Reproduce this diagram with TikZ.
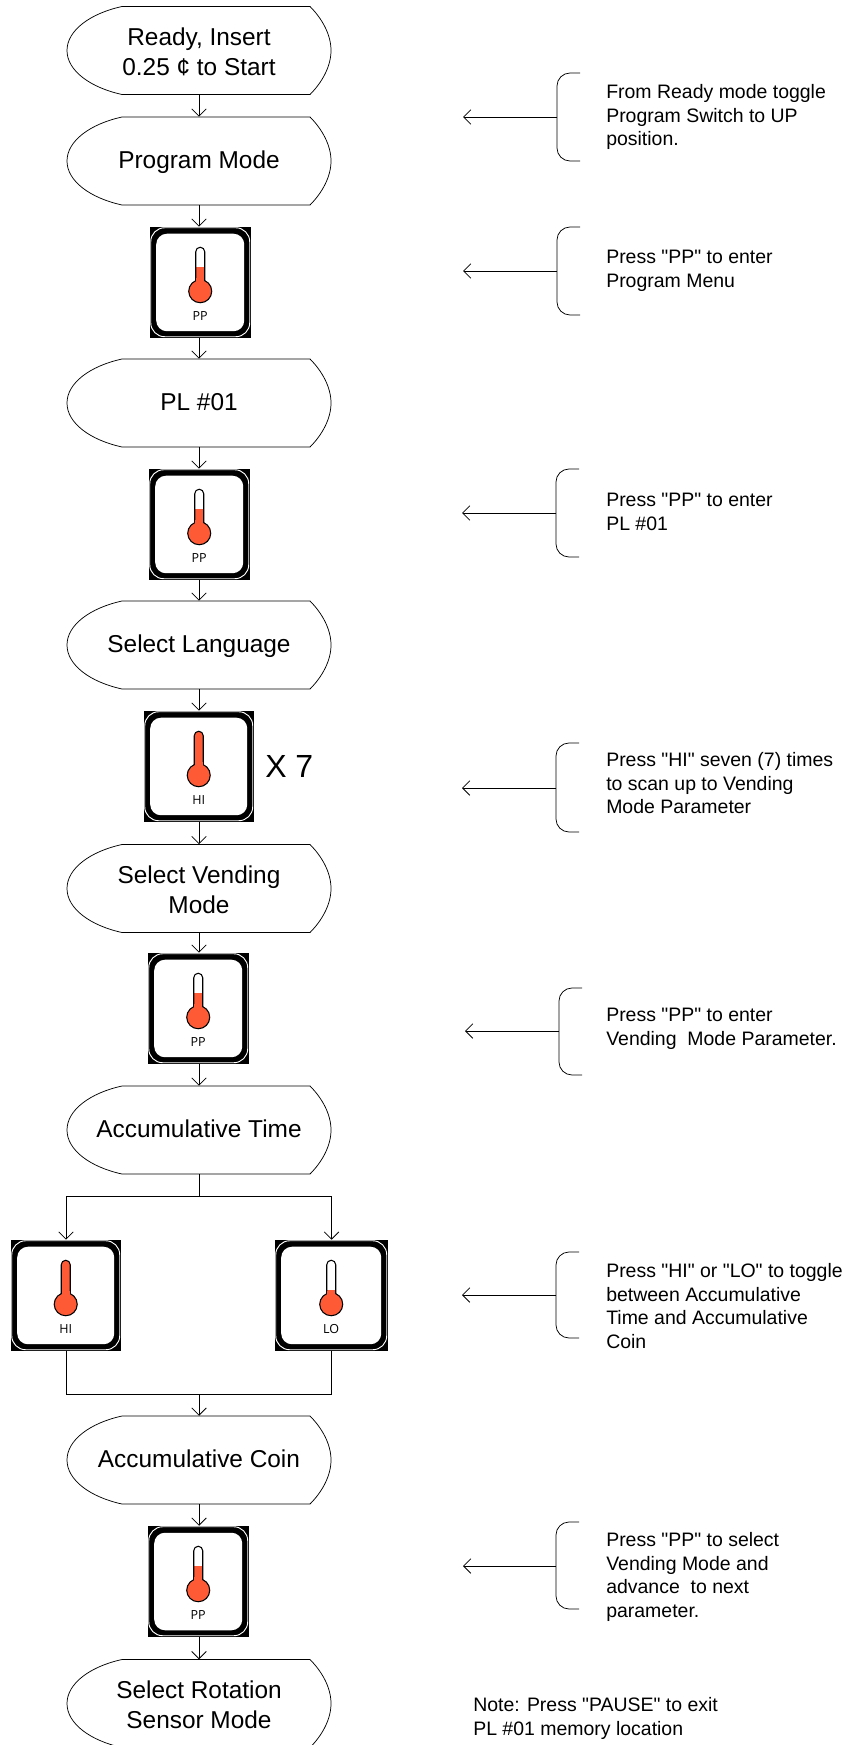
\documentclass[tikz,border=0pt]{standalone}
\usepackage{fontspec}
\setmainfont{Liberation Sans}[Ligatures=TeXOff]
\newfontfamily\iconfont{Open Sans}
\usetikzlibrary{arrows.meta}
\definecolor{thermo}{HTML}{FF5A36}
\newcommand{\tfirst}{\rule{0pt}{\dimexpr.7\baselineskip+2.6pt\relax}}
\newcommand{\ttwo}{\rule{0pt}{21.7pt}}
\tikzset{
  flow/.style={draw=black,line width=.6pt,-{Straight Barb[length=5.5pt,width=11pt,line width=.55pt]}},
  plainflow/.style={draw=black,line width=.6pt},
  termline/.style={draw=black,line width=.55pt},
  term/.style={inner sep=0pt,minimum width=198pt,minimum height=66pt,align=center,
    font=\fontsize{18.3}{22.7}\selectfont,execute at begin node=\tfirst,execute at end node=\strut},
  notetext/.style={inner sep=0pt,anchor=north west,align=left,font=\fontsize{14.6}{17.8}\selectfont,execute at begin node=\strut},
  iconback/.style={fill=black,inner sep=0pt,draw=none},
  iconrim/.style={draw=white,line width=.7pt,rounded corners=10.5pt},
  iconface/.style={fill=white,rounded corners=8pt},
  thermoline/.style={draw=black,line width=.8pt},
  iconlabel/.style={inner sep=0pt,anchor=base,text=black,font=\iconfont\fontsize{9.4}{11}\selectfont},
}
\newcommand{\terminal}[4]{%
  \node[term] (#1) at (#2,#3) {#4};
  \draw[termline,shift={(#1.center)}] (-77,-44) -- (111,-44)
    .. controls (123,-32) and (132,-16) .. (132,0)
    .. controls (132,16) and (123,32) .. (111,44)
    -- (-77,44)
    .. controls (-109,37) and (-132,20) .. (-132,0)
    .. controls (-132,-20) and (-109,-37) .. (-77,-44) -- cycle;
}
\newcommand{\iconbox}[7]{%
  \pgfmathsetmacro{\icw}{#4-#2}
  \pgfmathsetmacro{\ich}{#5-#3}
  \pgfmathsetmacro{\icc}{\icw/2}
  \node[iconback,minimum width={\icw*0.75pt},minimum height={\ich*0.75pt}] (#1) at ({(#2+#4)/2},{(#3+#5)/2}) {};
  \begin{scope}[shift={(#1.north west)}]
    \draw[iconrim] (1,1) rectangle ({\icw-1},{\ich-1});
    \fill[iconface] (6.5,7) rectangle ({\icw-6.5},{\ich-6.5});
    \fill[white] ({\icc-4.5},25) arc[start angle=180,end angle=360,radius=4.5] -- ({\icc+4.5},60) -- ({\icc-4.5},60) -- cycle;
    \begin{scope}
      \clip ({\icc-4.5},25) arc[start angle=180,end angle=360,radius=4.5] -- ({\icc+4.5},60) -- ({\icc-4.5},60) -- cycle;
      \fill[thermo] ({\icc-6},#6) rectangle ({\icc+6},60);
    \end{scope}
    \draw[thermoline] ({\icc-4.5},60) -- ({\icc-4.5},25) arc[start angle=180,end angle=360,radius=4.5] -- ({\icc+4.5},60);
    \filldraw[thermoline,fill=thermo] (\icc,64.5) circle[radius=11.5];
    \fill[thermo] ({\icc-3.9},51) rectangle ({\icc+3.9},60);
    \node[iconlabel] (#1l) at (\icc,94) {#7};
  \end{scope}
}
\newcommand{\bracketnote}[7]{%
  \draw[termline,rounded corners=9.75pt] (#7,#3) -- (#2,#3) -- (#2,#4) -- (#7,#4);
  \coordinate (#1) at (#2,#5);
  \coordinate (#1t) at (#6,#5);
  \draw[flow] (#1) -- (#1t);
}
\newcommand{\notetxt}[4]{\node[notetext] (#1) at (#2,{#3-14}) {#4};}
\begin{document}
\begin{tikzpicture}[x=0.75pt,y=-0.75pt]
\useasboundingbox (0,0) rectangle (850,1745);
\fill[white] (0,0) rectangle (850,1745);

\terminal{t1}{199}{50.5}{\ttwo Ready, Insert\\0.25 ¢ to Start}
\terminal{t2}{199}{161}{Program Mode}
\terminal{t3}{199}{403}{PL \#01}
\terminal{t4}{199}{645}{Select Language}
\terminal{t5}{199}{888.5}{\ttwo Select Vending\\Mode}
\terminal{t6}{199}{1130}{Accumulative Time}
\terminal{t7}{199}{1460}{Accumulative Coin}
\terminal{t8}{199}{1703.5}{\ttwo Select Rotation\\Sensor Mode}

\iconbox{b1}{150}{227}{251}{338}{40}{PP}
\iconbox{b2}{149}{469}{250}{580}{40}{PP}
\iconbox{b3}{144}{711}{254}{822}{10}{HI}
\iconbox{b4}{148}{953}{249}{1064}{40}{PP}
\iconbox{b5}{11}{1240}{121}{1351}{10}{HI}
\iconbox{b6}{275}{1240}{388}{1351}{50}{LO}
\iconbox{b7}{148}{1526}{249}{1637}{40}{PP}

\node[inner sep=0pt,anchor=base west,font=\fontsize{24}{28}\selectfont] (x7) at (265,777) {X 7};

\draw[flow] (t1.south) -- (t2.north);
\draw[flow] (t2.south) -- (t2.south |- b1.north);
\draw[flow] (t2.south |- b1.south) -- (t3.north);
\draw[flow] (t3.south) -- (t3.south |- b2.north);
\draw[flow] (t3.south |- b2.south) -- (t4.north);
\draw[flow] (t4.south) -- (t4.south |- b3.north);
\draw[flow] (t4.south |- b3.south) -- (t5.north);
\draw[flow] (t5.south) -- (t5.south |- b4.north);
\draw[flow] (t5.south |- b4.south) -- (t6.north);
\coordinate (split) at (199,1196);
\coordinate (merge) at (199,1394);
\draw[plainflow] (t6.south) -- (split);
\draw[flow] (split) -| (b5.north);
\draw[flow] (split) -| (b6.north);
\draw[plainflow] (b5.south) |- (merge);
\draw[plainflow] (b6.south) |- (merge);
\draw[flow] (merge) -- (t7.north);
\draw[flow] (t7.south) -- (t7.south |- b7.north);
\draw[flow] (t7.south |- b7.south) -- (t8.north);

\bracketnote{n1}{557}{73}{161}{117}{463}{580}
\notetxt{m1}{606}{98}{From Ready mode toggle\\Program Switch to UP\\position.}
\bracketnote{n2}{557}{227}{315}{271}{463}{580}
\notetxt{m2}{606}{264}{Press "PP" to enter\\Program Menu}
\bracketnote{n3}{556}{469}{557}{513}{462}{579}
\notetxt{m3}{606}{507}{Press "PP" to enter\\PL \#01}
\bracketnote{n4}{556}{743}{832}{788}{462}{579}
\notetxt{m4}{606}{766}{Press "HI" seven (7) times\\to scan up to Vending\\Mode Parameter}
\bracketnote{n5}{559}{988}{1075}{1031}{465}{582}
\notetxt{m5}{606}{1022}{Press "PP" to enter\\Vending\ \ Mode Parameter.}
\bracketnote{n6}{556}{1252}{1338}{1295}{462}{579}
\notetxt{m6}{606}{1277}{Press "HI" or "LO" to toggle\\between Accumulative\\Time and Accumulative\\Coin}
\bracketnote{n7}{556}{1522}{1609}{1566}{463}{579}
\notetxt{m7}{606}{1546}{Press "PP" to select\\Vending Mode and\\advance\ \ to next\\parameter.}
\notetxt{m8}{473}{1711}{Note: Press "PAUSE" to exit\\PL \#01 memory location}
\end{tikzpicture}
\end{document}
